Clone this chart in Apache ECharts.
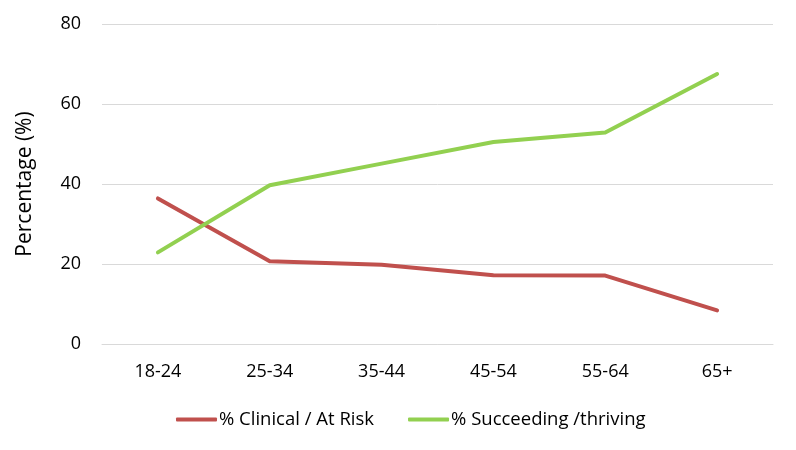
<!DOCTYPE html>
<html>
<head>
<meta charset="utf-8">
<script src="https://cdn.jsdelivr.net/npm/echarts@6/dist/echarts.min.js"></script>
<style>html,body{margin:0;padding:0;background:#fff}#c{width:796px;height:450px}</style>
</head>
<body>
<div id="c"></div>
<script>
const categories = ['18-24', '25-34', '35-44', '45-54', '55-64', '65+'];
const clinical = [36.4, 20.7, 19.8, 17.2, 17.1, 8.4];
const thriving = [22.9, 39.7, 45.1, 50.5, 52.9, 67.5];
const yTicks = [0, 20, 40, 60, 80];

const font = 'Open Sans, Liberation Sans, sans-serif';
const chart = echarts.init(document.getElementById('c'));
chart.setOption({
  animation: false,
  grid: { left: 102, right: 23, top: 24, bottom: 106 },
  legend: {
    top: 405,
    left: 171,
    itemWidth: 41,
    itemHeight: 4,
    itemGap: 34,
    icon: 'roundRect',
    textStyle: { fontFamily: font, fontSize: 18.5, color: '#000', padding: [0, 0, 0, -3] },
    data: ['% Clinical / At Risk', '% Succeeding /thriving']
  },
  xAxis: {
    type: 'category',
    data: categories,
    boundaryGap: true,
    axisLine: { show: true, lineStyle: { color: '#d9d9d9', width: 1 } },
    axisTick: { show: false },
    axisLabel: { fontFamily: font, fontSize: 18, color: '#000', margin: 19 }
  },
  yAxis: {
    type: 'value',
    min: yTicks[0],
    max: yTicks[yTicks.length - 1],
    interval: 20,
    name: 'Percentage (%)',
    nameLocation: 'middle',
    nameGap: 66,
    nameRotate: 90,
    nameTextStyle: { fontFamily: font, fontSize: 21, color: '#000' },
    axisLine: { show: false },
    axisTick: { show: false },
    splitLine: { lineStyle: { color: '#d9d9d9', width: 1 } },
    axisLabel: { fontFamily: font, fontSize: 18, color: '#000', margin: 21 }
  },
  series: [
    {
      name: '% Clinical / At Risk',
      type: 'line',
      data: clinical,
      symbol: 'none',
      lineStyle: { color: '#C0504D', width: 4, cap: 'round', join: 'round' },
      itemStyle: { color: '#C0504D' }
    },
    {
      name: '% Succeeding /thriving',
      type: 'line',
      data: thriving,
      symbol: 'none',
      lineStyle: { color: '#92D050', width: 4, cap: 'round', join: 'round' },
      itemStyle: { color: '#92D050' }
    }
  ]
});
</script>
</body>
</html>
